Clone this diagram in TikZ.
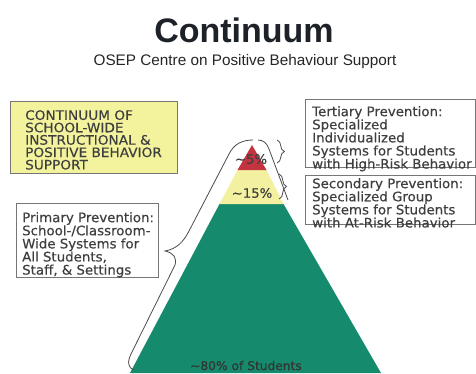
\documentclass[tikz,border=0pt]{standalone}
\usepackage{fontspec}
\setmainfont{DejaVu Sans}
\newfontfamily\labelfont[FakeStretch=1.02, FakeBold=0.3]{DejaVu Sans}
\newfontfamily\capsfont[FakeStretch=1.05, FakeBold=0.3]{DejaVu Sans}
\newfontfamily\headfont{Liberation Sans}
\usetikzlibrary{decorations.pathreplacing}

\definecolor{labelyellow}{RGB}{243,243,158}
\definecolor{tipred}{RGB}{196,52,64}
\definecolor{bandyellow}{RGB}{243,241,160}
\definecolor{basegreen}{RGB}{22,138,108}
\definecolor{framegray}{RGB}{118,118,118}
\definecolor{inktext}{RGB}{62,62,62}
\definecolor{titleink}{RGB}{28,34,40}

\tikzset{
  framebox/.style={draw=framegray, line width=0.9pt, anchor=north west, inner sep=0pt},
  boxtext/.style={anchor=north west, inner sep=0pt, align=left, text=inktext,
                  font=\labelfont\fontsize{13.1}{13.1}\selectfont},
  captext/.style={anchor=north west, inner sep=0pt, align=left, text=inktext,
                  font=\capsfont\fontsize{13}{12.4}\selectfont},
  pcttext/.style={inner sep=0pt, text=inktext, font=\labelfont\fontsize{13}{13}\selectfont},
  bracket/.style={draw=black!70, line width=0.8pt},
  curly/.style={draw=black!70, line width=0.8pt,
                decorate, decoration={brace, amplitude=7.5pt, aspect=0.5}}
}

\begin{document}
\begin{tikzpicture}[x=1pt, y=-1pt]
\useasboundingbox (0,0) rectangle (476,373);
\fill[white] (0,0) rectangle (476,373);

% heading
\node (title) [anchor=base, inner sep=0pt, text=titleink,
      font=\headfont\bfseries\fontsize{34}{34}\selectfont] at (244,42) {Continuum};
\node (subtitle) [anchor=base, inner sep=0pt, text=black!85,
      font=\headfont\fontsize{15.3}{15}\selectfont] at (245,65)
      {OSEP Centre on Positive Behaviour Support};

% pyramid of tiers
\begin{scope}
\clip (0,0) rectangle (476,373);
\fill[basegreen] (219.5,204) -- (283.5,204) -- (381,373) -- (130,373) -- cycle;
\fill[bandyellow] (237.5,170) -- (266.5,170) -- (283.5,204) -- (219.5,204) -- cycle;
\fill[tipred] (252,145) -- (266.5,170) -- (237.5,170) -- cycle;
\end{scope}
\coordinate (apex) at (252,145);

\node (tip) [pcttext] at (251,159) {\textasciitilde5\%};
\node (mid) [pcttext] at (252,193) {\textasciitilde15\%};
\node (base) [anchor=base, inner sep=0pt, text=black!80,
      font=\labelfont\fontsize{12}{12}\selectfont] at (246,370) {\textasciitilde80\% of Students};

% label boxes
\node (heading) [framebox, fill=labelyellow, minimum width=167pt, minimum height=72pt] at (10,101) {};
\node (headingtext) [captext] at (25,110)
      {CONTINUUM OF\\SCHOOL-WIDE\\INSTRUCTIONAL \&\\POSITIVE BEHAVIOR\\SUPPORT};

\node (tertiary) [framebox, minimum width=170pt, minimum height=68pt] at (305,99) {};
\node (tertiarytext) [boxtext] at (312,106)
      {Tertiary Prevention:\\Specialized\\Individualized\\Systems for Students\\with High-Risk Behavior};

\node (secondary) [framebox, minimum width=170pt, minimum height=49pt] at (305,175) {};
\node (secondarytext) [boxtext] at (312,178)
      {Secondary Prevention:\\Specialized Group\\Systems for Students\\with At-Risk Behavior};

\node (primary) [framebox, minimum width=142pt, minimum height=74pt] at (16,203) {};
\node (primarytext) [boxtext] at (22,212)
      {Primary Prevention:\\School-/Classroom-\\Wide Systems for\\All Students,\\Staff, \& Settings};

% braces on the right
\draw[curly] (277,140) -- (277,163);
\draw[curly] (279,174) -- (279,199);

% long bracket around the pyramid
\coordinate (cusp) at (165,251);
\draw[bracket] (253,140) .. controls (242,140) and (234,144) .. (229,154)
      -- (189,231) .. controls (184,241) and (177,249) .. (cusp)
      .. controls (174,253) and (177,258) .. (175,265)
      -- (131,354) .. controls (127,362) and (128,368) .. (134,370);
\draw[bracket] (258,140) .. controls (263,140) and (267,143) .. (269,149)
      -- (288,200);
\end{tikzpicture}
\end{document}
